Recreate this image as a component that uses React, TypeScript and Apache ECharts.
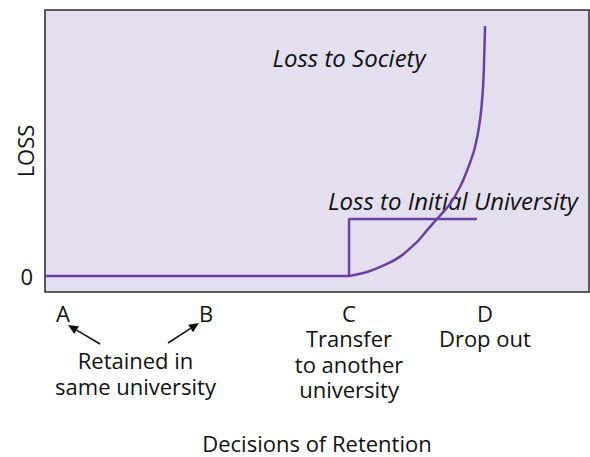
import React, { useEffect, useRef } from "react";
import * as echarts from "echarts";

// Decisions of retention (x positions on the horizontal scale)
const decisionLabels = ["A", "B", "C", "D"];
const decisionPositions = [0, 1, 2, 2.95];
const decisionNotes = ["", "", "Transfer\nto another\nuniversity", "Drop out"];
const retainedNote = "Retained in\nsame university";

// Loss to initial university (step)
const initialUniversityX = [-0.126, 2, 2, 2.895];
const initialUniversityY = [0, 0, 1, 1];

// Loss to society (convex curve)
const societyX = [2, 2.126, 2.238, 2.357, 2.476, 2.545, 2.615, 2.706, 2.776, 2.832, 2.881, 2.916, 2.937, 2.946, 2.951];
const societyY = [0, 0.07, 0.18, 0.34, 0.6, 0.8, 1.0, 1.263, 1.561, 1.895, 2.263, 2.737, 3.316, 3.912, 4.386];

const yTickValues = [0];
const yTickLabels = ["0"];

const X_MIN = -0.126;
const X_MAX = 3.678;
const Y_MIN = -0.281;
const Y_MAX = 4.667;

const FONT = "Open Sans";
const PURPLE = "#6b40a3";
const TEXT = "#111111";

export default function App() {
  const ref = useRef<HTMLDivElement>(null);

  useEffect(() => {
    if (!ref.current) return;
    document.body.style.margin = "0";
    const chart = echarts.init(ref.current, undefined, { renderer: "svg" });

    const option: any = {
      animation: false,
      backgroundColor: "#ffffff",
      textStyle: { fontFamily: FONT },
      grid: {
        left: 45,
        top: 10,
        right: 1,
        bottom: 165,
        containLabel: false,
        outerBoundsMode: "none",
        show: true,
        backgroundColor: "#e3dfee",
        borderColor: "#2a2a2a",
        borderWidth: 1.5,
      },
      xAxis: {
        type: "value",
        min: X_MIN,
        max: X_MAX,
        name: "Decisions of Retention",
        nameLocation: "middle",
        nameGap: 140,
        nameMoveOverlap: false,
        nameTextStyle: { fontSize: 22, color: TEXT, fontFamily: FONT },
        axisLine: { show: false },
        axisTick: { show: false },
        splitLine: { show: false },
        axisLabel: {
          customValues: decisionPositions,
          margin: 8,
          fontSize: 22,
          lineHeight: 25.5,
          color: TEXT,
          fontFamily: FONT,
          formatter: (v: number) => {
            const i = decisionPositions.findIndex((p) => Math.abs(p - v) < 1e-6);
            if (i < 0) return "";
            return decisionNotes[i] ? decisionLabels[i] + "\n" + decisionNotes[i] : decisionLabels[i];
          },
        },
      },
      yAxis: {
        type: "value",
        min: Y_MIN,
        max: Y_MAX,
        name: "LOSS",
        nameLocation: "middle",
        nameRotate: 90,
        nameGap: 9,
        nameMoveOverlap: false,
        nameTextStyle: { fontSize: 22, color: TEXT, fontFamily: FONT },
        axisLine: { show: false },
        axisTick: { show: false },
        splitLine: { show: false },
        axisLabel: {
          customValues: yTickValues,
          margin: 12,
          fontSize: 22,
          color: TEXT,
          fontFamily: FONT,
          formatter: (v: number) => {
            const i = yTickValues.findIndex((p) => Math.abs(p - v) < 1e-6);
            return i < 0 ? "" : yTickLabels[i];
          },
        },
      },
      series: [
        {
          name: "Loss to Initial University",
          type: "line",
          data: initialUniversityX.map((x, i) => [x, initialUniversityY[i]]),
          showSymbol: false,
          symbol: "none",
          lineStyle: { color: PURPLE, width: 2.5 },
        },
        {
          name: "Loss to Society",
          type: "line",
          data: societyX.map((x, i) => [x, societyY[i]]),
          smooth: 0.4,
          showSymbol: false,
          symbol: "none",
          lineStyle: { color: PURPLE, width: 2.5 },
        },
      ],
    };
    chart.setOption(option);

    const px = (x: number, y: number) => chart.convertToPixel({ gridIndex: 0 }, [x, y]) as number[];
    const bottom = px(0, Y_MIN)[1];
    const a = px(decisionPositions[0], 0);
    const b = px(decisionPositions[1], 0);
    const society = px(2.0, 3.84);
    const initial = px(2.727, 1.333);
    const mid = px((decisionPositions[0] + decisionPositions[1]) / 2, 0);

    const arrow = (x1: number, y1: number, x2: number, y2: number) => {
      const dx = x2 - x1;
      const dy = y2 - y1;
      const len = Math.sqrt(dx * dx + dy * dy);
      const ux = dx / len;
      const uy = dy / len;
      const hl = 10;
      const hw = 4.5;
      const bx = x2 - ux * hl;
      const by = y2 - uy * hl;
      return [
        {
          type: "line",
          shape: { x1, y1, x2: bx, y2: by },
          style: { stroke: "#111", lineWidth: 1.5 },
        },
        {
          type: "polygon",
          shape: {
            points: [
              [x2, y2],
              [bx - uy * hw, by + ux * hw],
              [bx + uy * hw, by - ux * hw],
            ],
          },
          style: { fill: "#111" },
        },
      ];
    };

    chart.setOption({
      graphic: [
        {
          type: "text",
          x: society[0],
          y: society[1],
          style: {
            text: "Loss to Society",
            font: `italic 24px "${FONT}"`,
            fill: TEXT,
            align: "center",
            verticalAlign: "middle",
          },
        },
        {
          type: "text",
          x: initial[0],
          y: initial[1],
          style: {
            text: "Loss to Initial University",
            font: `italic 24px "${FONT}"`,
            fill: TEXT,
            align: "center",
            verticalAlign: "middle",
          },
        },
        {
          type: "text",
          x: mid[0] + 1,
          y: bottom + 55,
          style: {
            text: retainedNote,
            font: `22px "${FONT}"`,
            fill: TEXT,
            align: "center",
            verticalAlign: "top",
            lineHeight: 26,
          },
        },
        ...arrow(a[0] + 37, bottom + 52, a[0] + 5, bottom + 33),
        ...arrow(b[0] - 38, bottom + 51, b[0] - 7, bottom + 31),
      ],
    });

    return () => chart.dispose();
  }, []);

  return <div ref={ref} style={{ width: 590, height: 457 }} />;
}
